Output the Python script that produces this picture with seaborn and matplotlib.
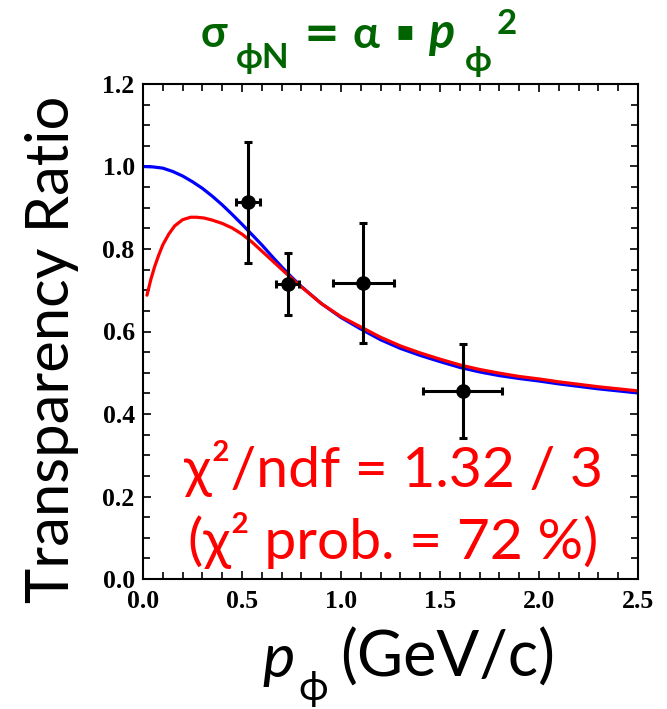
import matplotlib
matplotlib.use("Agg")
import matplotlib.pyplot as plt
import seaborn as sns
import pandas as pd
from matplotlib.ticker import MultipleLocator, FormatStrFormatter

# ---- data ----
pt_x = [0.53, 0.73, 1.113, 1.615]
pt_y = [0.913, 0.715, 0.718, 0.456]
pt_yerr_lo = [0.147, 0.075, 0.145, 0.113]
pt_yerr_hi = [0.147, 0.075, 0.146, 0.113]
pt_xerr = [0.061, 0.056, 0.153, 0.200]

blue_x = [0.00, 0.05, 0.10, 0.15, 0.20, 0.25, 0.30, 0.35, 0.40, 0.45, 0.50, 0.55, 0.60, 0.65,
          0.70, 0.75, 0.80, 0.90, 1.00, 1.10, 1.20, 1.30, 1.40, 1.50, 1.60, 1.70, 1.80,
          1.90, 2.00, 2.10, 2.20, 2.30, 2.40, 2.50]
blue_y = [1.000, 0.999, 0.996, 0.988, 0.977, 0.963, 0.947, 0.928, 0.907, 0.884, 0.860, 0.835,
          0.810, 0.783, 0.757, 0.732, 0.709, 0.668, 0.634, 0.606, 0.580, 0.559, 0.542, 0.527,
          0.513, 0.502, 0.493, 0.486, 0.480, 0.473, 0.467, 0.461, 0.456, 0.451]

red_x = [0.02, 0.04, 0.06, 0.08, 0.10, 0.13, 0.16, 0.20, 0.24, 0.27, 0.31, 0.35, 0.40, 0.45,
         0.50, 0.55, 0.60, 0.65, 0.70, 0.75, 0.80, 0.90, 1.00, 1.10, 1.20, 1.30, 1.40,
         1.50, 1.60, 1.70, 1.80, 1.90, 2.00, 2.10, 2.20, 2.30, 2.40, 2.50]
red_y = [0.688, 0.727, 0.759, 0.786, 0.810, 0.836, 0.856, 0.871, 0.877, 0.877, 0.875, 0.870,
         0.862, 0.851, 0.836, 0.817, 0.795, 0.773, 0.751, 0.729, 0.708, 0.668, 0.636, 0.611,
         0.586, 0.565, 0.548, 0.533, 0.519, 0.508, 0.499, 0.491, 0.485, 0.478, 0.472, 0.466,
         0.461, 0.456]

FAM = ["Lato", "DejaVu Sans"]
DV = ["DejaVu Sans"]
# title pieces: text, left x (px), baseline y (px), size (pt), style, family
title_pieces = [
    ("σ", 201, 47, 31, "normal", FAM),
    ("ϕN", 236, 68, 25, "normal", FAM),
    ("=", 304, 47, 31, "normal", DV),
    ("α", 353, 48, 32, "normal", FAM),
    ("▪", 396, 39, 20, "normal", DV),
    ("p", 428, 48, 35, "italic", FAM),
    ("ϕ", 465, 71, 25, "normal", FAM),
    ("2", 497, 34, 25, "normal", FAM),
]
# x-label pieces
xlabel_pieces = [
    ("p", 262, 677, 44, "italic"),
    ("ϕ", 298, 700, 29, "normal"),
    ("(GeV/c)", 340, 677, 45.5, "normal"),
]
ylabel_txt = "Transparency Ratio"
chi_line1 = "χ²/ndf = 1.32 / 3"
chi_line2 = "(χ² prob. = 72 %)"

sns.set_theme(style="white")
plt.rcParams["font.family"] = FAM

W, H = 667, 709
fig = plt.figure(figsize=(W / 100, H / 100), dpi=100)
ax = fig.add_axes([143 / W, 1 - 579 / H, (638 - 143) / W, (579 - 84) / H])

blue_df = pd.DataFrame({"x": blue_x, "y": blue_y})
red_df = pd.DataFrame({"x": red_x, "y": red_y})
sns.lineplot(data=blue_df, x="x", y="y", ax=ax, color="#0000ff", lw=2.3, sort=False)
sns.lineplot(data=red_df, x="x", y="y", ax=ax, color="#ff0000", lw=2.3, sort=False)

ax.errorbar(pt_x, pt_y, yerr=[pt_yerr_lo, pt_yerr_hi], xerr=pt_xerr, fmt="o",
            color="black", ms=9.5, elinewidth=2.2, capsize=3, capthick=2.2, zorder=5)

ax.set_xlim(0, 2.5)
ax.set_ylim(0, 1.2)
ax.xaxis.set_major_locator(MultipleLocator(0.5))
ax.xaxis.set_minor_locator(MultipleLocator(0.1))
ax.yaxis.set_major_locator(MultipleLocator(0.2))
ax.yaxis.set_minor_locator(MultipleLocator(0.05))
ax.xaxis.set_major_formatter(FormatStrFormatter("%.1f"))
ax.yaxis.set_major_formatter(FormatStrFormatter("%.1f"))
ax.tick_params(which="both", direction="in", top=True, right=True, bottom=True, left=True,
               color="black")
ax.tick_params(which="major", length=6, width=1.2)
ax.tick_params(which="minor", length=5, width=1.2)
ax.tick_params(axis="y", which="major", pad=6)
ax.tick_params(axis="x", which="major", pad=8)
for lab in ax.get_xticklabels() + ax.get_yticklabels():
    lab.set_fontfamily("Liberation Serif")
    lab.set_fontweight("bold")
    lab.set_fontsize(18.5)
    lab.set_color("black")
for s in ax.spines.values():
    s.set_color("black")
    s.set_linewidth(1.5)
ax.set_xlabel("")
ax.set_ylabel("")

for txt, x, y, size, style, fam in title_pieces:
    fig.text(x / W, 1 - y / H, txt, ha="left", va="baseline", fontsize=size,
             fontweight="bold", fontstyle=style, color="#006400", family=fam)

for txt, x, y, size, style in xlabel_pieces:
    fig.text(x / W, 1 - y / H, txt, ha="left", va="baseline", fontsize=size,
             fontstyle=style, color="black", family=FAM)

fig.text(69 / W, 1 - 349 / H, ylabel_txt, rotation=90, rotation_mode="anchor",
         ha="center", va="baseline", fontsize=43, color="black", family=FAM)

ax.text(1.263, 0.223, chi_line1, ha="center", va="baseline", fontsize=41, color="#ff0000",
        family=FAM)
ax.text(1.263, 0.048, chi_line2, ha="center", va="baseline", fontsize=41, color="#ff0000",
        family=FAM)

fig.savefig("out.png", dpi=100)
